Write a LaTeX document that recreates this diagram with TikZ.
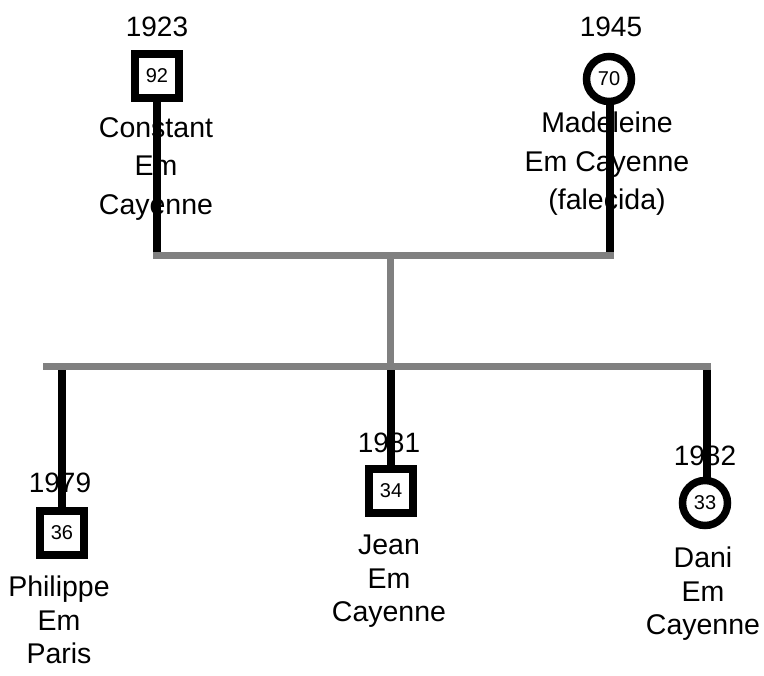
\documentclass[tikz,border=0pt]{standalone}
\usepackage{fontspec}
\setmainfont{Liberation Sans}
\definecolor{linkgray}{HTML}{808080}
\begin{document}
\begin{tikzpicture}[x=1pt,y=-1pt,
  male/.style={draw=black,line width=7.5pt,fill=white,minimum size=44pt,inner sep=0pt,font=\fontsize{20}{22}\selectfont},
  female/.style={circle,draw=black,line width=7.5pt,fill=white,minimum size=45pt,inner sep=0pt,font=\fontsize{20}{22}\selectfont},
  year/.style={inner sep=0pt,anchor=base,font=\fontsize{28}{30}\selectfont},
  toplabel/.style={inner sep=0pt,anchor=north,align=center,font=\fontsize{28.5}{38.5}\selectfont},
  botlabel/.style={inner sep=0pt,anchor=north,align=center,font=\fontsize{28.5}{33.5}\selectfont},
  life/.style={draw=black,line width=7.5pt},
  link/.style={draw=linkgray,line width=7pt}]
\useasboundingbox (0,0) rectangle (764,676);
% coordinates of the family lines
\coordinate (pl) at (153,256);
\coordinate (pr) at (614,256);
\coordinate (pm) at (390,256);
\coordinate (cm) at (390,367);
\coordinate (cl) at (43,367);
\coordinate (cr) at (711,367);
\coordinate (cA) at (62,367);
\coordinate (cB) at (391,367);
\coordinate (cC) at (707,367);
\coordinate (fA) at (157,256);
\coordinate (fB) at (610,256);
% life lines
\path[life] (157,76) -- (fA);
\path[life] (610,79) -- (fB);
\path[life] (cA) -- (62,533);
\path[life] (cB) -- (391,491);
\path[life] (cC) -- (707,503);
% family links
\path[link] (pl) -- (pr);
\path[link] (pm) -- (cm);
\path[link] (cl) -- (cr);
% persons
\node[male] (constant) at (157,76) {92};
\node[female] (madeleine) at (609,79) {70};
\node[male] (philippe) at (62,533) {36};
\node[male] (jean) at (391,491) {34};
\node[female] (dani) at (705,503) {33};
% years
\node[year] (y1) at (157,37) {1923};
\node[year] (y2) at (611,37) {1945};
\node[year] (y3) at (60,493) {1979};
\node[year] (y4) at (389,453) {1981};
\node[year] (y5) at (705,466) {1982};
% labels
\node[toplabel] (l1) at (156,117) {Constant\\Em\\Cayenne};
\node[toplabel] (l2) at (607,112) {Madeleine\\Em Cayenne\\(falecida)};
\node[botlabel] (l3) at (59,576) {Philippe\\Em\\Paris};
\node[botlabel] (l4) at (389,535) {Jean\\Em\\Cayenne};
\node[botlabel] (l5) at (703,547) {Dani\\Em\\Cayenne};
\end{tikzpicture}
\end{document}
